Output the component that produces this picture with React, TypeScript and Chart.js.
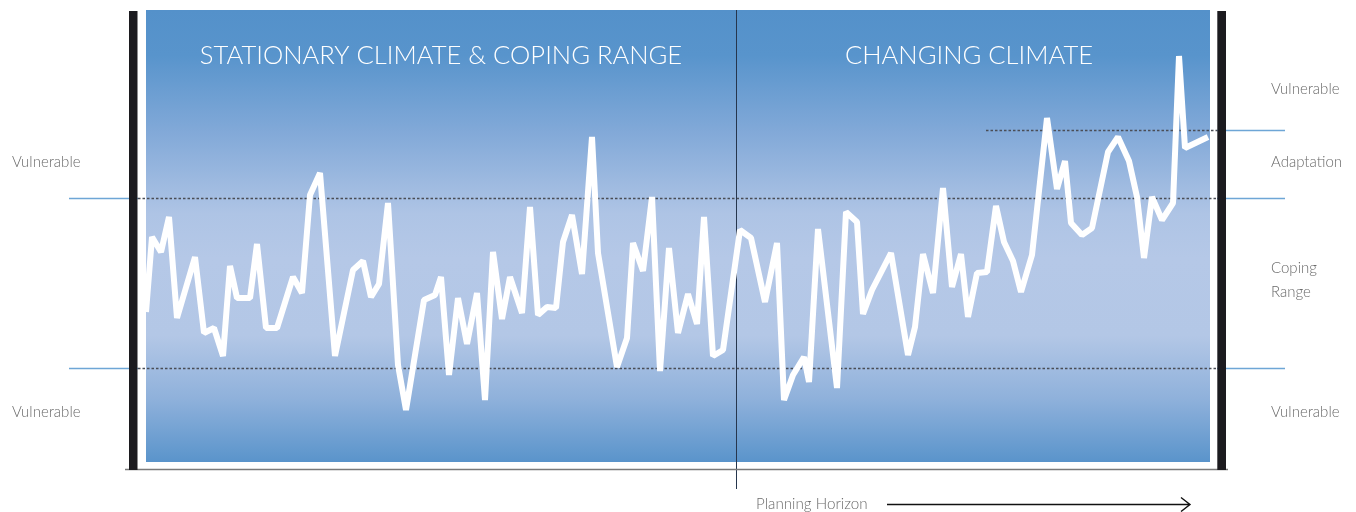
import React, { useEffect, useRef } from "react";
import { Chart, registerables } from "chart.js";

Chart.register(...registerables);

// Climate variable over time (x: time units, y: climate variable units)
const timeValues = [
  0, 6, 15, 23, 31, 49, 58, 68, 77, 84, 91, 104, 111, 120, 131, 147, 156, 164, 174, 189,
  207, 217, 225, 233, 242, 252, 260, 278, 289, 295, 303, 312, 321, 331, 339, 347, 356, 364, 376, 384,
  392, 401, 410, 417, 426, 436, 446, 452, 471, 481, 487, 497, 506, 514, 523, 532, 542, 551, 558, 567,
  577, 594, 605, 619, 631, 638, 647, 658, 663, 672, 691, 700, 711, 717, 726, 745, 762, 769, 777, 787,
  797, 806, 815, 822, 831, 841, 850, 858, 867, 875, 886, 901, 911, 919, 925, 936, 946, 962, 972, 983,
  991, 998, 1006, 1016, 1027, 1033, 1039, 1062,
];
const climateValues = [
  150, 225, 210, 245, 144, 205, 129, 134, 106, 196, 164, 164, 218, 134, 134, 185, 169, 267, 289, 106,
  192, 201, 165, 178, 259, 97, 52, 162, 167, 185, 87, 164, 118, 169, 62, 210, 143, 185, 149, 255,
  147, 155, 154, 220, 247, 188, 325, 209, 95, 124, 219, 191, 265, 91, 214, 129, 168, 138, 245, 106,
  112, 232, 224, 160, 219, 62, 87, 105, 80, 233, 74, 250, 240, 148, 172, 209, 107, 135, 208, 169,
  274, 175, 208, 145, 189, 190, 256, 220, 201, 170, 207, 344, 273, 301, 239, 227, 234, 310, 325, 301,
  265, 204, 265, 242, 259, 406, 314, 325,
];

// Thresholds (climate variable units) and planning horizon (time units)
const copingUpper = 264;
const copingLower = 94;
const adaptationUpper = 332;
const adaptationStart = 840;
const planningHorizon = 590;

const regionTitles = ["STATIONARY CLIMATE & COPING RANGE", "CHANGING CLIMATE"];
const leftLabels = ["Vulnerable", "Vulnerable"];
const leftLabelValues = [300, 50];
const rightLabels = ["Vulnerable", "Adaptation", "Coping", "Range", "Vulnerable"];
const rightLabelValues = [373, 300, 194, 170, 50];
const horizonLabel = "Planning Horizon";

const decorPlugin = {
  id: "decor",
  beforeDatasetsDraw(chart: any) {
    const { ctx, chartArea, scales } = chart;
    const { left, right, top, bottom } = chartArea;
    const x = scales.x;
    const y = scales.y;
    ctx.save();
    const g = ctx.createLinearGradient(0, top, 0, bottom);
    g.addColorStop(0, "#5491CA");
    g.addColorStop(0.1, "#5894CC");
    g.addColorStop(0.27, "#82A9D8");
    g.addColorStop(0.45, "#AEC4E5");
    g.addColorStop(0.55, "#B5C8E7");
    g.addColorStop(0.72, "#B3C7E6");
    g.addColorStop(0.86, "#8FB1DB");
    g.addColorStop(1, "#5A94CB");
    ctx.fillStyle = g;
    ctx.fillRect(left, top, right - left, bottom - top);

    // dotted thresholds
    ctx.strokeStyle = "#4a4d55";
    ctx.lineWidth = 1.3;
    ctx.setLineDash([2.5, 2]);
    const dot = (x0: number, x1: number, v: number) => {
      const py = Math.round(y.getPixelForValue(v)) + 0.5;
      ctx.beginPath();
      ctx.moveTo(x0, py);
      ctx.lineTo(x1, py);
      ctx.stroke();
    };
    dot(left - 8, right + 7, copingUpper);
    dot(left - 8, right + 7, copingLower);
    dot(x.getPixelForValue(adaptationStart), right + 7, adaptationUpper);
    ctx.setLineDash([]);

    // planning horizon vertical line
    const hx = Math.round(x.getPixelForValue(planningHorizon)) + 0.5;
    ctx.strokeStyle = "#26364d";
    ctx.lineWidth = 1;
    ctx.beginPath();
    ctx.moveTo(hx, top);
    ctx.lineTo(hx, bottom + 27);
    ctx.stroke();

    // region titles
    ctx.fillStyle = "#ffffff";
    ctx.font = "300 25.6px Lato, 'Open Sans', sans-serif";
    ctx.textAlign = "center";
    ctx.textBaseline = "middle";
    const h = x.getPixelForValue(planningHorizon);
    ctx.fillText(regionTitles[0], (left + h) / 2, top + 46);
    ctx.fillText(regionTitles[1], (h + right) / 2 - 4, top + 46);
    ctx.restore();
  },
  afterDraw(chart: any) {
    const { ctx, chartArea, scales } = chart;
    const { left, right, top, bottom } = chartArea;
    const x = scales.x;
    const y = scales.y;
    ctx.save();
    // blue solid threshold extensions
    ctx.strokeStyle = "#6EA6D6";
    ctx.lineWidth = 1.3;
    const solid = (x0: number, x1: number, v: number) => {
      const py = Math.round(y.getPixelForValue(v)) + 0.5;
      ctx.beginPath();
      ctx.moveTo(x0, py);
      ctx.lineTo(x1, py);
      ctx.stroke();
    };
    solid(69, left - 8, copingUpper);
    solid(69, left - 8, copingLower);
    solid(right + 7, 1285, copingUpper);
    solid(right + 7, 1285, copingLower);
    solid(right + 7, 1285, adaptationUpper);

    // bottom axis line
    ctx.strokeStyle = "#7a7a7a";
    ctx.lineWidth = 1.5;
    ctx.beginPath();
    ctx.moveTo(125, bottom + 7.5);
    ctx.lineTo(1228, bottom + 7.5);
    ctx.stroke();

    // black side bars
    ctx.fillStyle = "#1c1b1f";
    ctx.fillRect(left - 17, top + 1, 8.5, bottom - top + 7);
    ctx.fillRect(right + 7.3, top + 1, 8.7, bottom - top + 7);

    // side labels
    ctx.fillStyle = "#6a6a6a";
    ctx.font = "300 15px Lato, 'Liberation Sans', sans-serif";
    ctx.textAlign = "left";
    ctx.textBaseline = "middle";
    leftLabels.forEach((t, i) => ctx.fillText(t, 12, y.getPixelForValue(leftLabelValues[i])));
    rightLabels.forEach((t, i) => ctx.fillText(t, 1271, y.getPixelForValue(rightLabelValues[i])));

    // planning horizon label + arrow
    const hx = x.getPixelForValue(planningHorizon);
    ctx.font = "300 15.2px Lato, 'Liberation Sans', sans-serif";
    ctx.fillText(horizonLabel, hx + 20, bottom + 42);
    ctx.strokeStyle = "#111111";
    ctx.lineWidth = 1.4;
    const ay = bottom + 42.5;
    ctx.beginPath();
    ctx.moveTo(887, ay);
    ctx.lineTo(1190, ay);
    ctx.moveTo(1181, ay - 7);
    ctx.lineTo(1190, ay);
    ctx.lineTo(1181, ay + 7);
    ctx.stroke();
    ctx.restore();
  },
};

export default function App() {
  const ref = useRef<HTMLCanvasElement>(null);
  useEffect(() => {
    document.body.style.margin = "0";
    const canvas = ref.current!;
    const chart = new Chart(canvas, {
      type: "line",
      data: {
        datasets: [
          {
            data: timeValues.map((t, i) => ({ x: t, y: climateValues[i] })),
            borderColor: "#ffffff",
            borderWidth: 6,
            pointRadius: 0,
            tension: 0,
            fill: false,
            borderJoinStyle: "bevel",
          },
        ],
      },
      options: {
        responsive: false,
        animation: false,
        layout: { padding: { left: 146, right: 146, top: 10, bottom: 50 } },
        plugins: { legend: { display: false }, tooltip: { enabled: false } },
        scales: {
          x: { type: "linear", min: 0, max: 1064, display: false },
          y: { type: "linear", min: 0, max: 452, display: false },
        },
      },
      plugins: [decorPlugin],
    });
    return () => chart.destroy();
  }, []);
  return <canvas ref={ref} width={1356} height={512} style={{ display: "block" }} />;
}
